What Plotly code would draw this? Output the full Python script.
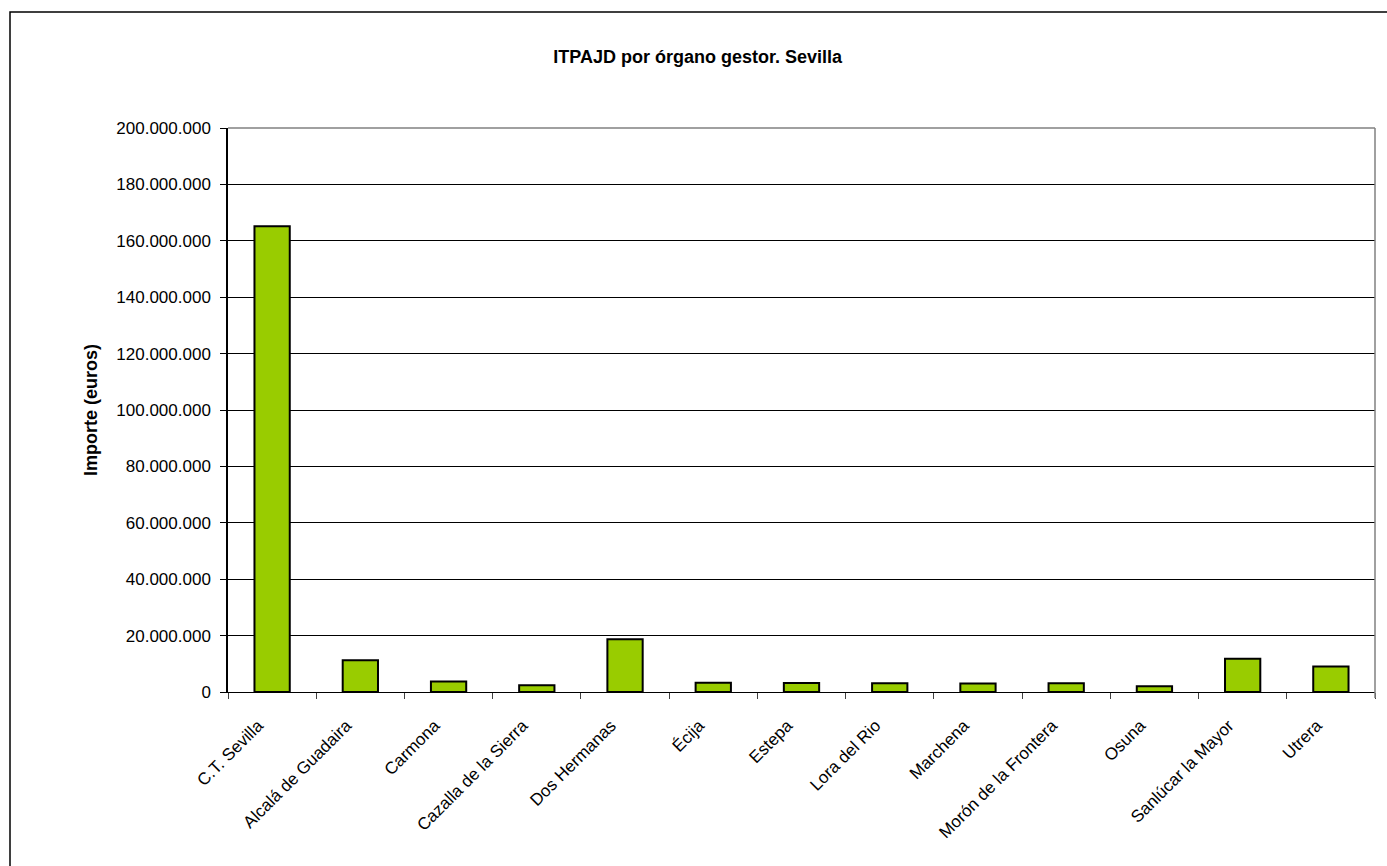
import plotly.graph_objects as go

categories = ["C.T. Sevilla", "Alcalá de Guadaira", "Carmona", "Cazalla de la Sierra",
              "Dos Hermanas", "Écija", "Estepa", "Lora del Rio", "Marchena",
              "Morón de la Frontera", "Osuna", "Sanlúcar la Mayor", "Utrera"]
values = [165200000, 11300000, 3700000, 2400000, 18700000, 3300000, 3200000,
          3100000, 3000000, 3100000, 2000000, 11800000, 9000000]
y_ticks = list(range(0, 200000001, 20000000))

W, H = 1387, 866
L, R, T, B = 228, 1375, 128, 692
FONT = "Liberation Sans, Arial, sans-serif"

fig = go.Figure(go.Bar(
    x=categories, y=values,
    marker=dict(color="#99CC00", line=dict(color="black", width=2)),
    width=0.4,
))

def px(x):
    return (x - L) / (R - L)

def py(y):
    return (B - y) / (B - T)

fig.update_layout(
    width=W, height=H,
    margin=dict(l=L, r=W - R, t=T, b=H - B),
    paper_bgcolor="white", plot_bgcolor="white",
    separators=",.",
    showlegend=False,
    font=dict(family=FONT, color="black", size=16),
    title=dict(text="<b>ITPAJD por órgano gestor. Sevilla</b>", x=0.503, xanchor="center",
               y=1 - 57 / H, yanchor="middle",
               font=dict(size=18, family=FONT)),
    xaxis=dict(
        type="category", tickangle=-45, tickson="boundaries", ticks="outside",
        ticklen=6, tickcolor="#404040", showline=True, linecolor="black", linewidth=1,
        showgrid=False, tickfont=dict(size=17), range=[-0.5, len(categories) - 0.5],
        ticklabelstandoff=16, ticklabelshift=-14,
    ),
    yaxis=dict(
        range=[0, 200000000], tickvals=y_ticks, tickformat=",d",
        ticks="outside", ticklen=6, tickcolor="black",
        showline=True, linecolor="black", linewidth=1.5,
        showgrid=True, gridcolor="black", gridwidth=1, zeroline=False,
        tickfont=dict(size=17), ticklabelstandoff=6,
        title=dict(text="<b>Importe (euros)</b>", font=dict(size=18), standoff=14),
    ),
    shapes=[
        dict(type="rect", xref="paper", yref="paper", x0=px(10), x1=px(1400),
             y0=py(880), y1=py(12), line=dict(color="black", width=1.5), layer="below"),
        dict(type="line", xref="paper", yref="paper", x0=0, x1=1, y0=1, y1=1,
             line=dict(color="#808080", width=1.5)),
        dict(type="line", xref="paper", yref="paper", x0=1, x1=1, y0=py(698), y1=1,
             line=dict(color="#808080", width=1.5)),
    ],
)

fig.write_html("out.html", config={"displayModeBar": False},
               post_script="document.body.style.margin='0px';document.body.style.overflow='hidden';")
